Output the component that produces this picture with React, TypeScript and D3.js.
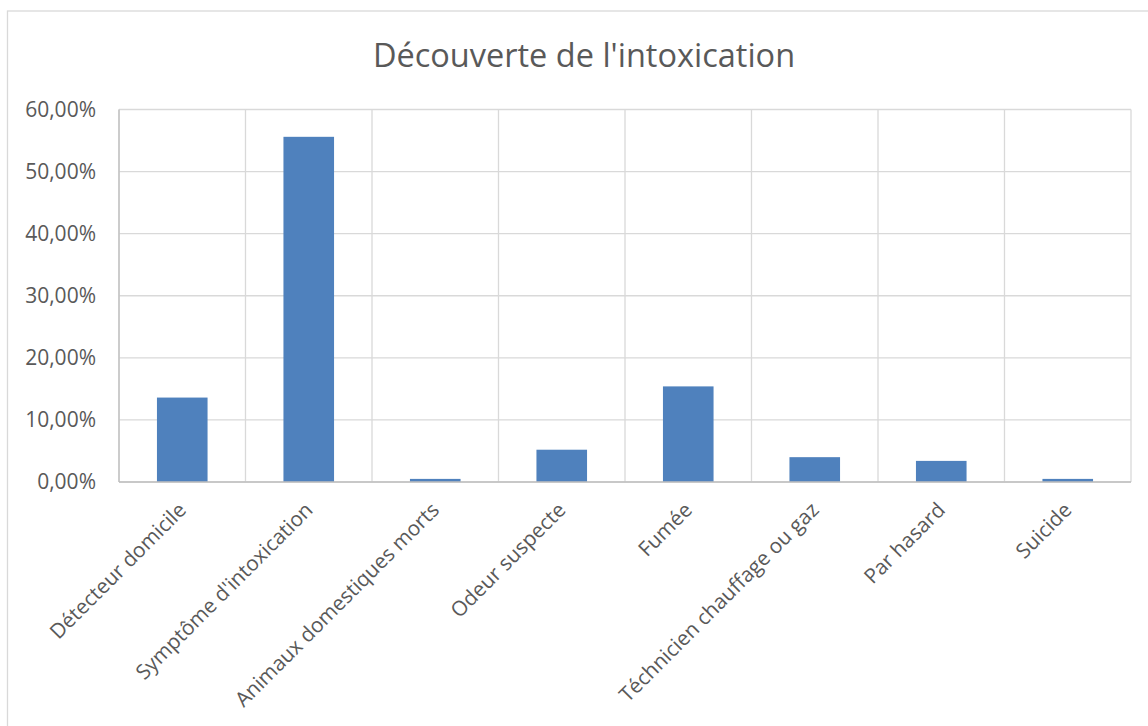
import React from "react";
import * as d3 from "d3";

const title = "Découverte de l'intoxication";
const categories = [
  "Détecteur domicile",
  "Symptôme d'intoxication",
  "Animaux domestiques morts",
  "Odeur suspecte",
  "Fumée",
  "Téchnicien chauffage ou gaz",
  "Par hasard",
  "Suicide",
];
const values = [0.136, 0.556, 0.005, 0.052, 0.154, 0.04, 0.034, 0.005];
const yTicks = [0, 0.1, 0.2, 0.3, 0.4, 0.5, 0.6];

const W = 1148;
const H = 726;
const plot = { left: 119, right: 1131, top: 109.5, bottom: 482 };
const FONT = "'Open Sans', sans-serif";
const TEXT = "#595959";
const GRID = "#D9D9D9";
const BAR = "#4F81BD";

const fmt = (v: number) => (v * 100).toFixed(2).replace(".", ",") + "%";

export default function App() {
  const x = d3.scaleBand<string>().domain(categories).range([plot.left, plot.right]).padding(0);
  const y = d3.scaleLinear().domain([0, 0.6]).range([plot.bottom, plot.top]);
  const bw = x.bandwidth() * 0.4;

  return (
    <svg
      width={W}
      height={H}
      style={{ position: "absolute", left: 0, top: 0, background: "#fff" }}
      fontFamily={FONT}
    >
      <rect x={7.5} y={11} width={1160} height={730} fill="#fff" stroke={GRID} strokeWidth={1.3} />
      <text x={584} y={67} textAnchor="middle" fontSize={32.5} fill={TEXT}>
        {title}
      </text>
      {yTicks.map((t) => (
        <g key={t}>
          <line x1={plot.left} x2={plot.right} y1={y(t)} y2={y(t)} stroke={GRID} strokeWidth={1.3} />
          <text x={96} y={y(t)} dy="0.35em" textAnchor="end" fontSize={21} fill={TEXT}>
            {fmt(t)}
          </text>
        </g>
      ))}
      {categories.map((c) => (
        <line key={"v" + c} x1={x(c)!} x2={x(c)!} y1={plot.top} y2={plot.bottom} stroke={GRID} strokeWidth={1.3} />
      ))}
      <line x1={plot.right} x2={plot.right} y1={plot.top} y2={plot.bottom} stroke={GRID} strokeWidth={1.3} />
      {categories.map((c, i) => (
        <rect
          key={"b" + c}
          x={x(c)! + (x.bandwidth() - bw) / 2}
          y={y(values[i])}
          width={bw}
          height={plot.bottom - y(values[i])}
          fill={BAR}
        />
      ))}
      <line x1={plot.left} x2={plot.right} y1={plot.bottom} y2={plot.bottom} stroke="#BFBFBF" strokeWidth={1.5} />
      <line x1={plot.left} x2={plot.left} y1={plot.top} y2={plot.bottom} stroke="#BFBFBF" strokeWidth={1.3} />
      {categories.map((c) => {
        const cx = x(c)! + x.bandwidth() / 2;
        return (
          <text
            key={"l" + c}
            transform={`translate(${cx - 5},${501}) rotate(-45)`}
            textAnchor="end"
            dy="0.7em"
            fontSize={20.7}
            fill={TEXT}
          >
            {c}
          </text>
        );
      })}
    </svg>
  );
}
